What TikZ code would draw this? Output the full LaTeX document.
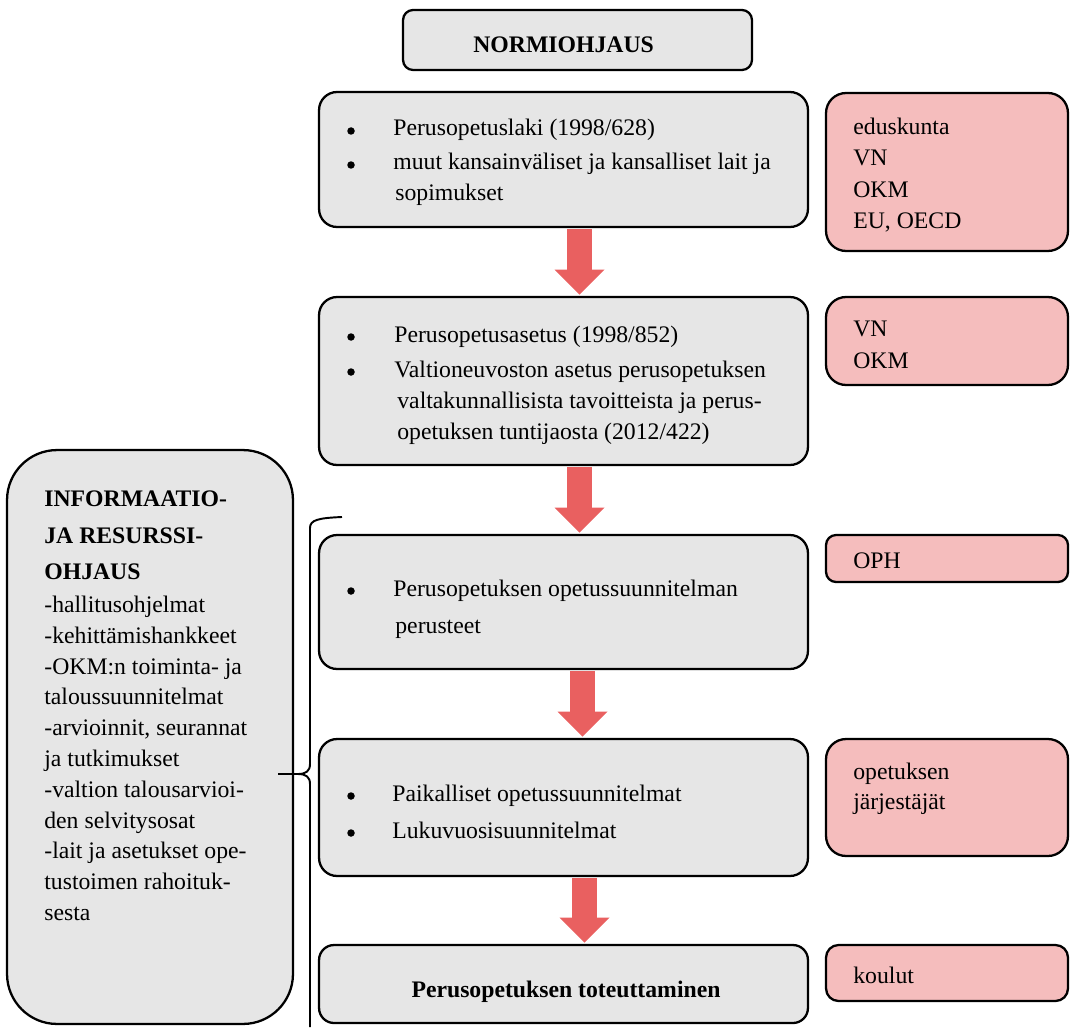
\documentclass[tikz,border=0pt]{standalone}
\usepackage{fontspec}
\setmainfont{Liberation Serif}
\usetikzlibrary{arrows.meta}

\definecolor{boxgray}{HTML}{E6E6E6}
\definecolor{boxpink}{HTML}{F5BDBD}
\definecolor{arrred}{HTML}{E96060}

\tikzset{
  gbox/.style={draw,line width=1.3pt,fill=boxgray,rounded corners=0.36cm},
  pbox/.style={draw,line width=1.3pt,fill=boxpink,rounded corners=0.4cm},
  txt/.style={anchor=base west,inner sep=0pt,font=\fontsize{13.5}{16}\selectfont},
  bul/.style={circle,fill,inner sep=0pt,minimum size=0.15cm},
  bigarr/.style={draw=arrred,line width=0.5cm,shorten <=0.65pt,shorten >=0.65pt,
    -{Triangle[length=0.5cm,width=1cm,line width=0pt]}},
  brace/.style={draw,line width=1.1pt}
}

\begin{document}
\begin{tikzpicture}[x=0.02cm,y=-0.02cm]
\useasboundingbox (0,0) rectangle (1070,1027);

% main column
\node[gbox,minimum width=6.98cm,minimum height=1.2cm,rounded corners=0.2cm] (norm) at (577.5,40) {};
\node[gbox,minimum width=9.78cm,minimum height=2.7cm] (b1) at (563.5,159.5) {};
\node[gbox,minimum width=9.78cm,minimum height=3.36cm] (b2) at (563.5,381) {};
\node[gbox,minimum width=9.78cm,minimum height=2.68cm] (b3) at (563.5,602) {};
\node[gbox,minimum width=9.78cm,minimum height=2.74cm] (b4) at (563.5,807.5) {};
\node[gbox,minimum width=9.78cm,minimum height=1.56cm,rounded corners=0.3cm] (b5) at (563.5,984) {};

% actors
\node[pbox,minimum width=4.84cm,minimum height=3.16cm] (p1) at (947,172) {};
\node[pbox,minimum width=4.84cm,minimum height=1.76cm] (p2) at (947,341) {};
\node[pbox,minimum width=4.84cm,minimum height=0.94cm,rounded corners=0.2cm] (p3) at (947,558.5) {};
\node[pbox,minimum width=4.84cm,minimum height=2.34cm] (p4) at (947,797.5) {};
\node[pbox,minimum width=4.84cm,minimum height=1.12cm,rounded corners=0.25cm] (p5) at (947,973) {};

% informaatio- ja resurssiohjaus
\node[gbox,minimum width=5.72cm,minimum height=11.48cm,rounded corners=1cm] (info) at (150,737) {};

\draw[bigarr] ([xshift=0.32cm]b1.south) -- ([xshift=0.32cm]b2.north);
\draw[bigarr] ([xshift=0.32cm]b2.south) -- ([xshift=0.32cm]b3.north);
\draw[bigarr] ([xshift=0.38cm]b3.south) -- ([xshift=0.38cm]b4.north);
\draw[bigarr] ([xshift=0.42cm]b4.south) -- ([xshift=0.42cm]b5.north);

% brace
\coordinate (bt) at (342,517);
\coordinate (bm) at (278,774);
\coordinate (bb) at (310,1027);
\draw[brace] (bt) .. controls (318,518) and (310,520) .. (310,528) -- (310,764)
  .. controls (310,771) and (306,774) .. (298,774) -- (bm);
\draw[brace] (298,774) .. controls (306,774) and (310,777) .. (310,784) -- (bb);

% texts
\node[txt,font=\fontsize{13.5}{16}\selectfont\bfseries] (normt) at (473,53) {NORMIOHJAUS};

\foreach \y in {136,170} \node[bul] (b1d\y) at (351,\y-5) {};
\foreach \x/\y/\t in {393/136/{Perusopetuslaki (1998/628)},393/170/{muut kansainväliset ja kansalliset lait ja},395/200/{sopimukset}}
	\node[txt] (b1t\y) at (\x,\y) {\t};

\foreach \y in {342,377} \node[bul] (b2d\y) at (351,\y-5) {};
\foreach \x/\y/\t in {394/342/{Perusopetusasetus (1998/852)},394/377/{Valtioneuvoston asetus perusopetuksen},397/408/{valtakunnallisista tavoitteista ja perus-},397/439/{opetuksen tuntijaosta (2012/422)}}
	\node[txt] (b2t\y) at (\x,\y) {\t};

\node[bul] (b3d) at (351,591) {};
\node[txt] (b3t1) at (393,596) {Perusopetuksen opetussuunnitelman};
\node[txt] (b3t2) at (395,633) {perusteet};

\foreach \y/\t in {801/{Paikalliset opetussuunnitelmat},838/{Lukuvuosisuunnitelmat}}{
	\node[bul] (b4d\y) at (351,\y-5) {};
	\node[txt] (b4t\y) at (392,\y) {\t};
}

\node[txt,anchor=base,font=\fontsize{13.5}{16}\selectfont\bfseries] (b5t) at (566,997) {Perusopetuksen toteuttaminen};

\foreach \y/\t in {135/eduskunta,166/VN,197/OKM,228/{EU, OECD},336/VN,368/OKM,568/OPH,779/opetuksen,809/järjestäjät,983/koulut}
	\node[txt] (pt\y) at (853,\y) {\t};

\foreach \y/\t in {506/INFORMAATIO-,543/JA RESURSSI-,579/OHJAUS}
	\node[txt,font=\fontsize{13.5}{16}\selectfont\bfseries] (it\y) at (44,\y) {\t};
\foreach \y/\t in {612/-hallitusohjelmat,643/-kehittämishankkeet,674/{-OKM:n toiminta- ja},704/taloussuunnitelmat,735/{-arvioinnit, seurannat},766/ja tutkimukset,797/-valtion talousarvioi-,828/den selvitysosat,858/-lait ja asetukset ope-,889/tustoimen rahoituk-,920/sesta}
	\node[txt] (il\y) at (44,\y) {\t};
\end{tikzpicture}
\end{document}
